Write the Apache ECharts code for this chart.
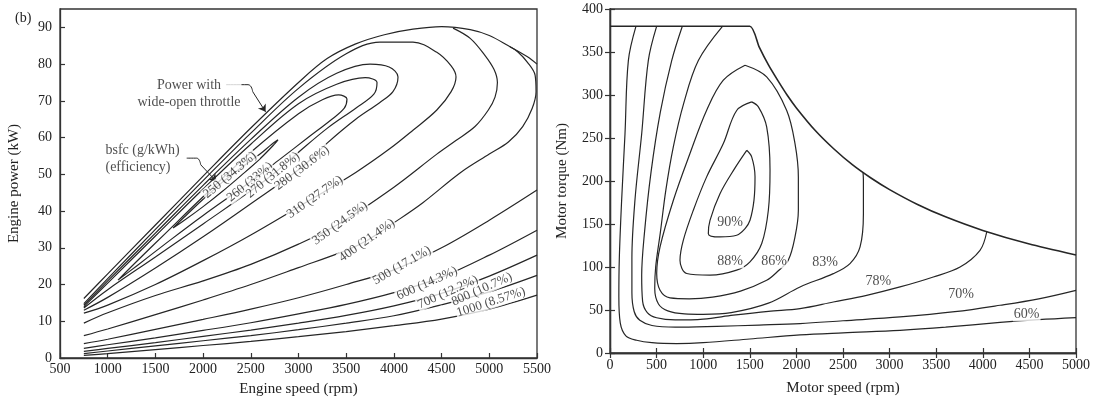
<!DOCTYPE html>
<html>
<head>
<meta charset="utf-8">
<script src="https://cdn.jsdelivr.net/npm/echarts@6/dist/echarts.min.js"></script>
<style>
html, body { margin: 0; background: #fff; }
#main { width: 1103px; height: 403px; }
</style>
</head>
<body>
<div id="main"></div>
<script>
var font = 'Liberation Serif';
var ink = '#262626';

// ---- left panel: engine bsfc map (rpm, kW) ----
var wotCurve = [[750,16.2],[1000,22.9],[1500,36.2],[2000,49.5],[2500,62.6],[3000,75],[3300,81.5],[3600,85.5],[3900,88],[4200,89.5],[4500,90.2],[4800,89.4],[5000,87.8],[5200,85],[5400,82],[5500,80]];
var bsfc250 = [[1685,35.4],[1800,38.3],[2000,43.2],[2200,47.8],[2400,51.8],[2600,55.6],[2720,58.2],[2785,59.4],[2740,58],[2600,54.3],[2400,49.7],[2200,45.3],[2000,41.2],[1800,37.4],[1685,35.4]];
var bsfc260 = [[1108,21.2],[1300,26.2],[1600,33.8],[2000,43.9],[2500,56],[3000,66.5],[3250,70.3],[3420,71.6],[3508,70.5],[3480,68],[3350,65],[3100,60],[2800,54],[2492,47.9],[2000,38.8],[1600,31],[1300,25],[1108,21.2]];
var bsfc270 = [[750,14.0],[1000,20.4],[1500,33.2],[2000,46],[2500,58.2],[3000,69.2],[3400,74.5],[3700,76.3],[3823,75],[3790,71.8],[3600,68],[3300,62.5],[3000,56],[2733,50],[2500,45.5],[2000,36.5],[1500,27.5],[1000,18.6],[750,13.6]];
var bsfc280 = [[750,14.4],[1000,21],[1500,34],[2000,47],[2500,59.5],[3000,71],[3400,77.5],[3750,80],[3950,79.2],[4043,76.5],[3990,72.5],[3850,69.5],[3600,65],[3300,58.5],[3037,52],[2500,42],[2000,33],[1500,24.5],[1000,16.5],[750,13]];
var bsfc310 = [[750,14.8],[1000,21.6],[1500,35],[2000,48.3],[2500,61.2],[3000,73.4],[3500,82.8],[3854,86],[4200,86],[4450,83.2],[4600,79.5],[4651,76.5],[4600,72.5],[4450,67.5],[4200,62],[3959,57],[3600,50.5],[3173,43.8],[2500,33.5],[2000,26.5],[1500,20],[1000,14.4],[750,12.2]];
var bsfc350 = [[4620,89.8],[4800,87],[4950,82.5],[5050,78.5],[5085,75],[5060,71],[4990,67.5],[4850,63],[4650,59.2],[4450,55.5],[4000,46.5],[3435,36.7],[3000,31],[2500,25.5],[2000,21],[1500,17],[1000,12.3],[750,9.5]];
var bsfc400 = [[750,6.1],[1000,7.9],[1500,11.8],[2000,15.8],[2500,20],[3000,24.6],[3500,29.3],[3718,32],[4000,36.8],[4300,42.2],[4700,50.5],[5000,55.5],[5200,58.8],[5350,63],[5450,68],[5490,72.5],[5480,77],[5400,80.5],[5300,83.3],[5217,84.7]];
var bsfc500 = [[750,3.9],[1000,5.1],[1500,7.8],[2000,10.5],[2500,13.3],[3000,16.4],[3500,20],[4000,24],[4500,30],[5000,37.5],[5500,45.7]];
var bsfc600 = [[750,2.6],[1000,3.6],[1500,5.5],[2000,7.5],[2500,9.6],[3000,12],[3500,14.6],[4000,17.8],[4500,22],[5000,28],[5500,34.8]];
var bsfc700 = [[750,1.8],[1000,2.6],[1500,4.2],[2000,5.9],[2500,7.6],[3000,9.5],[3500,11.6],[4000,14.2],[4500,17.6],[5000,22.3],[5500,28]];
var bsfc800 = [[750,1.2],[1000,1.9],[1500,3.3],[2000,4.7],[2500,6.1],[3000,7.7],[3500,9.5],[4000,11.5],[4500,14.5],[5000,18],[5500,22.5]];
var bsfc1000 = [[750,0.7],[1000,1.2],[1500,2.3],[2000,3.4],[2500,4.5],[3000,5.8],[3500,7.2],[4000,8.8],[4500,10.6],[5000,13.3],[5500,17.1]];

var bsfcLabels = ['250 (34.3%)','260 (33%)','270 (31.8%)','280 (30.6%)','310 (27.7%)','350 (24.5%)','400 (21.4%)','500 (17.1%)','600 (14.3%)','700 (12.2%)','800 (10.7%)','1000 (8.57%)'];
var bsfcLabelPos = [[2282,49.8],[2492,47.9],[2733,49.8],[3037,51.7],[3173,43.8],[3435,36.7],[3718,32],[4085,25.2],[4347,20.3],[4567,17.9],[4923,18.7],[5018,15.2]];
var bsfcLabelAngle = [40,39,39,37,35,36,35,30,24,24,24,18];

// arrows for the two notes
var wotArrow = [[2240,74.4],[2471,74.4],[2520,72.5]];
var wotArrowTip = [[2520,72.5],[2655,67]];
var bsfcArrow = [[1828,54.4],[1933,54.4],[1975,52.6]];
var bsfcArrowTip = [[1975,52.6],[2142,48]];

// ---- right panel: motor efficiency map (rpm, Nm) ----
var torqueMax = [[0,380],[1500,380],[1600,356],[1700,335],[1800,317],[1900,300],[2000,285],[2200,259],[2400,237.5],[2600,219],[2800,203.5],[3000,190],[3300,172.7],[3600,158.3],[4000,142.5],[4500,126.7],[5000,114]];
var eff60 = [[279,380],[197,340],[161,255],[125,178],[100,110],[95,65],[110,35],[170,20],[286,14.8],[450,12],[715,11],[1000,12],[1500,16.3],[2039,21],[2500,23.5],[3112,26.4],[3600,30],[4185,35.5],[4600,38.8],[5000,41.2]];
var eff70 = [[501,380],[411,340],[340,255],[268,178],[235,110],[235,70],[260,48],[320,38],[450,32],[700,30],[1145,31],[1600,32.5],[2039,34.2],[2500,37.5],[3112,41.9],[3700,48],[4185,55.5],[4600,63],[5000,72.9]];
var eff78 = [[776,380],[662,340],[540,280],[440,210],[370,140],[340,90],[350,60],[400,47],[500,41],[700,38.5],[1000,39.5],[1323,44],[1700,48.5],[2039,51.6],[2396,59.3],[2754,67.1],[3112,76.8],[3469,88.4],[3756,100],[3970,119.4],[4042,140.7]];
var eff83 = [[1209,380],[948,340],[790,290],[680,240],[600,190],[540,140],[490,100],[480,75],[520,57],[620,49],[800,45.5],[1000,45],[1300,47],[1700,58],[2039,76.8],[2396,92.3],[2575,104],[2683,123.3],[2719,162],[2719,200.9],[2715,210]];
var eff86 = [[1449,334.6],[1681,321],[1896,282],[1985,243.5],[2021,204.7],[2021,166],[1985,135],[1913,108],[1800,95],[1681,84.5],[1400,72],[1100,65],[850,63],[644,64],[537,72.9],[501,92.3],[537,123.3],[680,177.6],[858,231.9],[1037,282.3],[1216,317.2],[1449,334.6]];
var eff88 = [[1520,292],[1359,282],[1216,243.5],[1037,204.8],[894,166],[787,131.2],[751,107.9],[823,92.4],[1073,90.5],[1359,96.3],[1502,106],[1628,127.3],[1699,166],[1717,212.5],[1681,262.9],[1592,286.2],[1520,292]];
var eff90 = [[1467,235.7],[1340,215],[1180,185.3],[1073,154.3],[1055,138.8],[1180,135],[1359,136.9],[1449,144.6],[1502,154.3],[1545,177.7],[1556,204.8],[1520,228.1],[1467,235.7]];

var effLabels = ['90%','88%','86%','83%','78%','70%','60%'];
var effLabelPos = [[1288,152.4],[1288,106.6],[1760,106.6],[2307,105.8],[2879,83.7],[3766,68.3],[4471,45]];

var chart = echarts.init(document.getElementById('main'));

function contour(data, xi, yi, w, sm) {
    return {
        type: 'line', xAxisIndex: xi, yAxisIndex: yi, data: data,
        symbol: 'none', smooth: sm === undefined ? 0.35 : sm, silent: true,
        lineStyle: { color: ink, width: w || 1.2 }, z: 2
    };
}

function arrow(path, tip) {
    var s = contour(path, 0, 0, 1, 0.5);
    s.markLine = {
        silent: true, symbol: ['none', 'arrow'], symbolSize: 7,
        lineStyle: { color: ink, width: 1, type: 'solid' },
        label: { show: false },
        data: [[{ coord: tip[0] }, { coord: tip[1] }]]
    };
    return s;
}

function textSeries(xi, yi, items) {
    return {
        type: 'scatter', xAxisIndex: xi, yAxisIndex: yi, symbolSize: 1, silent: true, z: 6,
        itemStyle: { color: 'rgba(0,0,0,0)' },
        label: { show: true, position: 'inside', color: '#222', fontFamily: font, fontSize: 13, backgroundColor: '#fff', padding: [0, 1] },
        data: items
    };
}

// plain numbers on the axes, no thousands separator
function plain(v) { return String(v); }

var axisText = { color: '#222', fontFamily: font, fontSize: 14, formatter: plain };
var axisLine = { show: true, lineStyle: { color: '#333', width: 1.3 } };
var tickIn = { show: true, inside: true, length: 5, lineStyle: { color: '#333', width: 1.2 } };

var leftLines = [wotCurve, bsfc250, bsfc260, bsfc270, bsfc280, bsfc310, bsfc350, bsfc400, bsfc500, bsfc600, bsfc700, bsfc800, bsfc1000];
var rightLines = [eff60, eff70, eff78, eff83, eff86, eff88, eff90];

var series = [];
leftLines.forEach(function (d) { series.push(contour(d, 0, 0)); });
series.push(arrow(wotArrow, wotArrowTip));
series.push(arrow(bsfcArrow, bsfcArrowTip));
rightLines.forEach(function (d) { series.push(contour(d, 1, 1)); });
series.push(contour(torqueMax, 1, 1, 1.6, 0.2));

series.push(textSeries(0, 0, bsfcLabels.map(function (t, i) {
    return { value: bsfcLabelPos[i], label: { formatter: t, rotate: bsfcLabelAngle[i] } };
}).concat([
    { value: [1852, 71.8], label: { formatter: 'Power with\nwide-open throttle', fontSize: 14, lineHeight: 17, align: 'center' } },
    { value: [961, 54.1], label: { formatter: 'bsfc (g/kWh)\n(efficiency)', fontSize: 14, lineHeight: 17, position: 'right', distance: 0, align: 'left' } }
])));
series.push(textSeries(1, 1, effLabels.map(function (t, i) {
    return { value: effLabelPos[i], label: { formatter: t, fontSize: 14 } };
})));

var option = {
    animation: false,
    backgroundColor: '#fff',
    title: [{ text: '(b)', left: 10, top: 6, textStyle: { fontFamily: font, fontSize: 14, fontWeight: 'normal', color: '#222' } }],
    grid: [
        { left: 60, right: 566, top: 9, bottom: 45, show: true, borderColor: '#333', borderWidth: 1.3 },
        { left: 610, right: 27, top: 9, bottom: 50, show: true, borderColor: '#333', borderWidth: 1.3 }
    ],
    xAxis: [
        { type: 'value', gridIndex: 0, min: 500, max: 5500, interval: 500, splitLine: { show: false },
          axisLine: axisLine, axisTick: tickIn, axisLabel: Object.assign({ margin: 4 }, axisText),
          name: 'Engine speed (rpm)', nameLocation: 'middle', nameGap: 24, nameTextStyle: { fontFamily: font, fontSize: 15, color: '#222' } },
        { type: 'value', gridIndex: 1, min: 0, max: 5000, interval: 500, splitLine: { show: false },
          axisLine: axisLine, axisTick: tickIn, axisLabel: Object.assign({ margin: 5 }, axisText),
          name: 'Motor speed (rpm)', nameLocation: 'middle', nameGap: 28, nameTextStyle: { fontFamily: font, fontSize: 15, color: '#222' } },
        { type: 'value', gridIndex: 1, position: 'top', min: 0, max: 5000, interval: 500, splitLine: { show: false },
          axisLine: axisLine, axisTick: tickIn, axisLabel: { show: false } }
    ],
    yAxis: [
        { type: 'value', gridIndex: 0, min: 0, max: 95, interval: 10, splitLine: { show: false },
          axisLine: axisLine, axisTick: tickIn, axisLabel: Object.assign({ margin: 8, showMaxLabel: false }, axisText),
          name: 'Engine power (kW)', nameLocation: 'middle', nameGap: 38, nameTextStyle: { fontFamily: font, fontSize: 15, color: '#222' } },
        { type: 'value', gridIndex: 1, min: 0, max: 400, interval: 50, splitLine: { show: false },
          axisLine: axisLine, axisTick: tickIn, axisLabel: Object.assign({ margin: 7 }, axisText),
          name: 'Motor torque (Nm)', nameLocation: 'middle', nameGap: 40, nameTextStyle: { fontFamily: font, fontSize: 15, color: '#222' } },
        { type: 'value', gridIndex: 1, position: 'right', min: 0, max: 400, interval: 50, splitLine: { show: false },
          axisLine: axisLine, axisTick: tickIn, axisLabel: { show: false } }
    ],
    series: series
};
chart.setOption(option);
</script>
</body>
</html>
